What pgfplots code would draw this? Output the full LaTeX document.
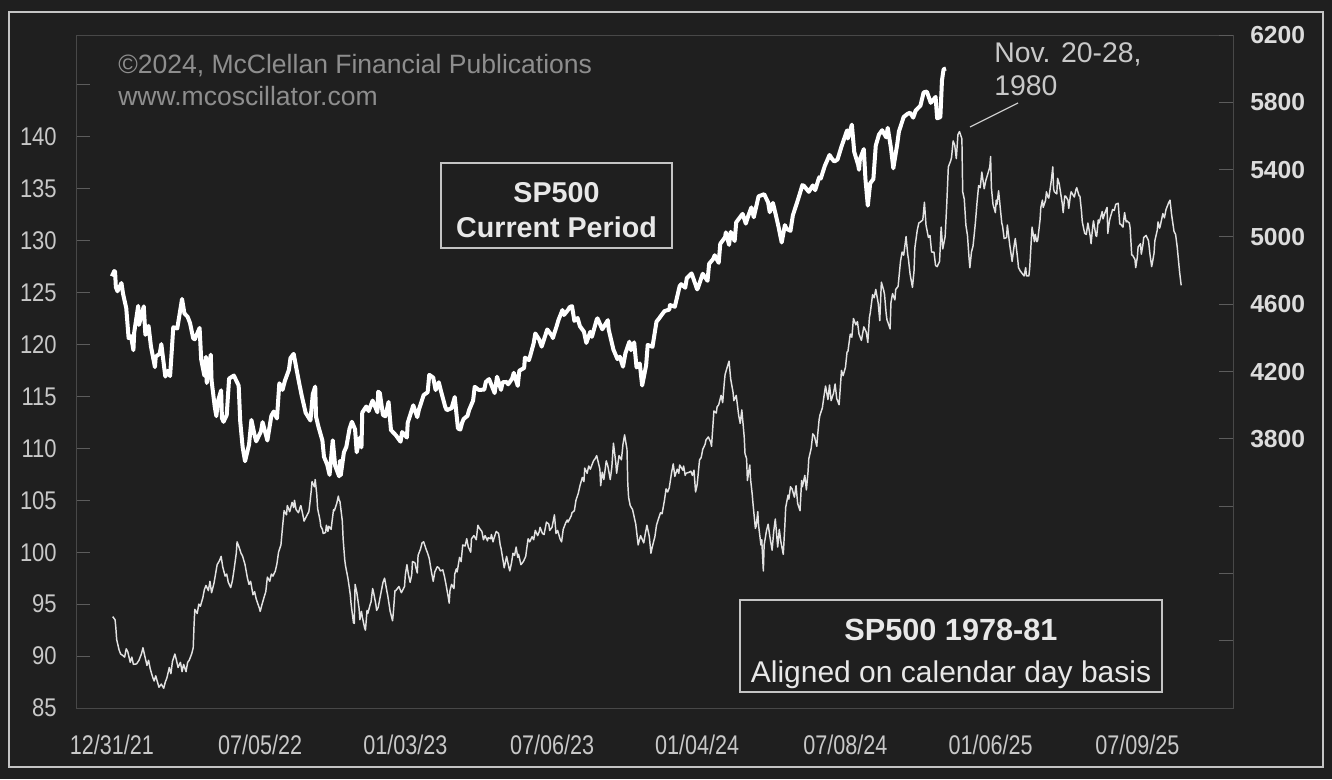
\documentclass[border=0pt]{standalone}
\usepackage{pgfplots}
\pgfplotsset{compat=1.18}
\usepackage{fontspec}
\setmainfont{Liberation Sans}
\newfontfamily\ltickfont[FakeStretch=0.86]{Liberation Sans}
\newfontfamily\xtickfont[FakeStretch=0.80]{Liberation Sans}
\definecolor{bg}{HTML}{1F1F1F}
\definecolor{framec}{HTML}{484848}
\definecolor{tickc}{HTML}{5C5C5C}
\definecolor{labc}{HTML}{C8C8C8}
\definecolor{labr}{HTML}{DCDCDC}
\definecolor{copyc}{HTML}{8E8E8E}
\definecolor{boxc}{HTML}{C4C4C4}
\definecolor{txtc}{HTML}{E8E8E8}
\definecolor{thinc}{HTML}{E2E2E2}
\begin{document}
\begin{tikzpicture}
\begin{scope}[x=0.75pt,y=-0.75pt]
\fill[bg] (0,0) rectangle (1332,779);
\useasboundingbox (0,0) rectangle (1332,779);
\draw[boxc, line width=1.5pt] (9,12) rectangle (1323,767);
\end{scope}
% ---------- left axis: SP500 1978-81 ----------
\begin{axis}[
  at={(57pt,-531pt)}, anchor=south west, scale only axis,
  width=867.75pt, height=504.75pt,
  xmin=-45, xmax=1406, ymin=85, ymax=149.8,
  axis line style={draw=framec, line width=0.75pt},
  xtick={0,186,368,552,734,920,1102,1286},
  xticklabels={12/31/21,07/05/22,01/03/23,07/06/23,01/04/24,07/08/24,01/06/25,07/09/25},
  xtick style={draw=none},
  ytick={85,90,95,100,105,110,115,120,125,130,135,140,145},
  yticklabels={85,90,95,100,105,110,115,120,125,130,135,140,{}},
  ytick pos=left, tick align=inside,
  ytick style={draw=tickc, line width=0.75pt},
  major tick length=10.5pt,
  yticklabel style={font=\ltickfont\fontsize{19.2}{22}\selectfont, text=labc, inner sep=0pt, anchor=east, xshift=-14.25pt},
  xticklabel style={font=\xtickfont\fontsize{20.25}{22}\selectfont, text=labc, inner sep=0pt, anchor=north, yshift=-20.25pt},
]
\addplot[thinc, line width=1.1pt, line join=round] coordinates {
(1,93.8) (4,93.5) (5,92.7) (6,91.6) (9,90.6) (11,90.2) (13,90.1) (16,89.9) (18,90.7) (20,90.4) (23,89.4) (25,89.9) (27,89.2) (31,89.25) (34,89.6) (37,90.2) (39,90.8) (41,90.1) (44,89.1) (46,89.6) (48,88.8) (51,88.0) (53,87.6) (55,88.1) (59,87.0) (62,87.3) (65,86.9) (67,87.5) (69,87.9) (72,88.9) (74,88.3) (76,89.5) (79,90.2) (81,89.6) (83,88.9) (86,89.4) (88,88.5) (90,89.2) (93,88.5) (95,89.4) (97,89.6) (100,90.2) (102,90.8) (103,92.9) (104,94.5) (107,94.1) (109,95.0) (111,94.8) (114,95.6) (116,96.4) (118,96.8) (121,96.3) (123,97.2) (125,96.1) (128,97.0) (130,97.9) (132,98.8) (135,99.2) (137,99.6) (139,98.6) (142,97.7) (144,97.9) (146,97.1) (149,96.6) (151,97.2) (153,98.2) (156,99.9) (157,101.0) (159,100.6) (162,99.9) (164,99.6) (167,98.8) (170,97.5) (172,96.9) (174,97.2) (177,95.9) (179,96.2) (181,95.5) (185,94.6) (186,94.3) (188,94.9) (191,95.7) (193,96.2) (195,97.6) (198,97.2) (200,97.9) (202,97.7) (205,98.2) (207,98.9) (209,100.0) (212,100.7) (214,102.4) (216,104.0) (219,103.6) (220,104.5) (223,103.9) (226,104.8) (228,104.3) (229,105.0) (231,104.1) (234,103.8) (236,104.3) (237,104.5) (240,103.4) (241,103.0) (243,103.3) (247,103.9) (248,104.5) (250,105.9) (251,106.8) (254,106.3) (255,107.0) (257,105.5) (258,104.2) (261,103.1) (262,102.5) (264,102.2) (265,101.8) (268,101.9) (269,102.6) (271,102.0) (272,102.5) (275,102.2) (276,102.9) (278,104.1) (279,104.0) (282,104.7) (284,105.4) (285,105.0) (286,104.9) (289,103.0) (290,101.3) (292,99.3) (293,98.7) (296,97.5) (297,97.0) (299,95.9) (300,95.0) (303,93.2) (304,93.15) (305,96.9) (307,96.2) (310,94.6) (311,93.5) (313,94.3) (314,93.8) (317,92.7) (318,92.5) (320,94.4) (321,94.1) (324,95.0) (325,95.2) (327,96.5) (328,96.2) (331,95.0) (332,94.4) (334,94.7) (338,96.3) (340,97.1) (342,97.5) (345,96.2) (346,95.8) (348,94.8) (349,94.3) (352,93.4) (353,94.2) (355,96.3) (356,96.3) (360,96.7) (362,96.3) (363,96.1)
(367,96.7) (368,97.8) (370,98.8) (372,97.8) (374,97.1) (376,97.8) (377,99.1) (380,99.0) (381,98.6) (383,98.0) (384,99.7) (387,100.3) (389,100.9) (391,101.0) (394,100.3) (396,99.9) (398,99.4) (401,98.0) (403,97.2) (405,98.1) (408,98.6) (410,98.5) (412,98.2) (415,98.3) (417,97.7) (419,96.9) (422,95.6) (423,95.1) (424,96.3) (426,96.9) (429,96.5) (430,97.9) (432,98.4) (433,98.1) (436,99.5) (438,99.1) (440,100.7) (443,100.6) (445,101.3) (447,100.5) (450,100.0) (451,101.3) (454,101.6) (457,101.2) (459,102.6) (461,102.3) (464,102.0) (466,101.2) (468,101.6) (471,101.1) (472,101.4) (475,101.3) (476,101.7) (478,101.0) (479,101.3) (482,102.0) (485,101.8) (487,100.7) (488,100.4) (491,99.0) (492,98.5) (494,99.2) (495,99.6) (498,98.5) (499,98.2) (501,98.9) (503,99.9) (505,99.7) (507,100.5) (509,99.5) (510,99.8) (513,98.8) (516,99.1) (519,99.6) (520,100.2) (522,101.3) (524,101.0) (527,101.5) (529,101.2) (531,102.1) (534,101.6) (536,102.0) (537,102.4) (540,101.8) (542,101.7) (545,102.9) (548,102.7) (549,102.1) (552,102.4) (555,103.6) (557,101.8) (559,102.1) (562,101.3) (564,101.0) (566,102.2) (569,102.8) (571,103.1) (572,102.9) (576,103.5) (577,103.8) (580,104.0) (582,105.0) (585,105.7) (587,106.4) (590,107.2) (592,106.8) (593,108.1) (596,107.6) (598,108.3) (600,108.0) (601,108.2) (604,108.8) (606,109.0) (608,109.3) (612,108.0) (613,106.4) (615,107.7) (617,107.0) (619,108.2) (620,108.8) (622,108.3) (625,107.0) (627,108.2) (629,110.5) (632,108.6) (633,107.6) (636,109.3) (639,108.9) (641,110.4) (643,111.3) (646,109.9) (647,106.6) (648,105.3) (650,104.5) (653,104.1) (655,103.4) (657,102.7) (660,100.7) (662,101.3) (663,101.6) (667,100.9) (669,101.8) (671,102.6) (674,101.5) (676,99.9) (678,100.6) (681,101.5) (683,102.6) (685,103.1) (688,103.8) (690,103.7) (693,105.0) (695,106.1) (697,105.8) (699,106.2) (702,107.7) (704,108.5) (706,107.3) (709,108.0) (711,107.6) (712,108.4) (716,107.9) (717,108.3) (719,107.4) (720,107.6) (724,107.7) (726,107.8) (728,107.4) (730,107.9)
(732,105.8) (734,106.5) (737,108.9) (739,109.1) (741,109.9) (744,110.4) (745,110.8) (748,111.1) (751,110.6) (752,110.2) (755,113.6) (758,113.4) (759,114.0) (761,114.2) (764,115.1) (766,114.4) (768,116.3) (769,117.1) (772,117.9) (774,118.4) (776,116.7) (779,115.4) (780,114.6) (783,115.1) (786,113.2) (788,112.4) (790,113.7) (793,111.1) (794,109.5) (796,109.0) (797,106.9) (800,108.4) (801,107.0) (803,105.6) (804,104.7) (807,102.3) (808,102.5) (810,103.9) (811,102.6) (814,100.7) (815,101.2) (817,98.2) (818,100.7) (821,102.1) (823,102.7) (825,101.6) (828,100.2) (830,102.0) (832,103.2) (835,100.5) (837,102.2) (839,101.0) (842,99.8) (844,102.6) (845,104.3) (848,105.5) (849,105.1) (851,106.3) (853,106.1) (856,105.3) (858,106.4) (860,104.7) (863,104.0) (865,106.9) (866,106.3) (869,107.4) (871,106.0) (873,107.7) (874,109.0) (877,110.0) (879,111.4) (881,111.2) (884,110.2) (885,111.2) (887,112.8) (888,113.2) (891,113.9) (893,115.0) (895,116.0) (898,114.7) (900,116.1) (902,114.6) (905,115.3) (907,116.2) (909,114.8) (912,114.2) (915,117.5) (917,117.0) (920,117.8) (922,119.3) (923,119.3) (926,121.0) (928,120.7) (930,122.5) (933,121.9) (935,122.2) (937,121.0) (940,120.4) (943,121.7) (946,121.2) (948,120.2) (950,122.6) (951,123.0) (954,124.8) (956,124.5) (958,125.3) (961,124.0) (963,122.3) (965,126.0) (968,125.2) (969,124.8) (971,123.0) (972,122.4) (976,121.5) (977,124.0) (979,124.9) (982,124.3) (983,125.3) (986,125.6) (989,128.0) (991,128.9) (993,128.6) (996,130.4) (998,128.7) (999,128.2) (1001,126.8) (1004,125.5) (1006,127.1) (1007,129.3) (1010,131.0) (1012,131.7) (1014,131.8) (1017,132.0) (1019,133.7) (1021,131.5) (1024,130.3) (1026,130.5) (1028,128.9) (1031,128.9) (1033,127.6) (1035,127.5) (1038,128.0) (1040,131.3) (1042,129.2) (1045,130.4) (1047,133.5) (1049,137.1) (1052,137.7) (1053,138.0) (1055,139.6) (1057,139.2) (1059,137.9) (1061,140.2) (1063,140.5) (1066,139.8) (1067,134.7) (1069,134.0) (1071,131.5) (1073,130.5) (1075,128.3) (1076,127.4) (1078,128.9) (1080,129.5) (1082,131.0) (1083,131.8) (1085,133.7) (1087,135.3) (1089,135.1) (1091,136.6) (1094,135.0) (1096,135.8)
(1098,136.3) (1101,137.1) (1102,138.1) (1103,135.1) (1105,133.5) (1108,132.7) (1109,133.9) (1110,133.5) (1112,134.8) (1116,131.7) (1117,131.4) (1119,130.2) (1122,130.3) (1123,131.5) (1126,129.6) (1129,128.0) (1130,128.6) (1132,129.8) (1133,130.2) (1136,128.2) (1137,127.4) (1139,127.1) (1140,127.0) (1144,126.6) (1146,127.4) (1147,126.6) (1150,126.6) (1151,127.3) (1153,130.0) (1154,131.3) (1157,129.9) (1158,130.6) (1160,129.9) (1161,130.0) (1164,132.0) (1165,133.2) (1167,133.9) (1168,133.2) (1171,133.9) (1172,134.7) (1174,134.2) (1175,134.1) (1178,135.7) (1180,137.1) (1181,135.0) (1182,134.7) (1185,134.5) (1186,136.0) (1188,135.5) (1189,135.0) (1192,133.5) (1193,132.7) (1195,134.3) (1196,134.3) (1199,133.9) (1200,133.1) (1202,134.3) (1203,134.7) (1207,134.2) (1209,134.9) (1210,135.1) (1213,134.3) (1214,134.3) (1216,132.8) (1217,131.8) (1220,130.7) (1222,130.6) (1224,131.7) (1227,130.4) (1228,129.7) (1230,131.3) (1231,131.9) (1234,130.5) (1235,130.4) (1237,132.0) (1238,131.7) (1242,132.8) (1243,132.1) (1245,132.6) (1248,133.2) (1249,130.7) (1251,131.9) (1252,132.2) (1255,133.0) (1257,132.9) (1259,133.5) (1262,133.6) (1264,131.6) (1265,131.6) (1268,131.3) (1270,132.7) (1272,131.8) (1273,131.9) (1276,131.7) (1277,131.2) (1279,128.6) (1280,128.6) (1283,128.2) (1284,127.4) (1286,128.4) (1287,129.4) (1290,129.7) (1291,128.7) (1293,129.6) (1294,130.3) (1297,130.5) (1300,130.0) (1302,128.6) (1304,127.5) (1305,127.9) (1307,128.8) (1308,130.0) (1311,131.0) (1312,131.8) (1314,131.2) (1315,131.5) (1318,132.6) (1320,132.2) (1322,133.0) (1325,133.6) (1327,133.9) (1329,132.5) (1332,130.9) (1334,130.6) (1336,129.4) (1339,127.0) (1341,125.7)
};
\end{axis}
% ---------- right axis: SP500 current ----------
\begin{axis}[
  at={(57pt,-531pt)}, anchor=south west, scale only axis,
  width=867.75pt, height=504.75pt,
  xmin=-45, xmax=1406, ymin=2200, ymax=6200,
  axis x line=none, axis y line*=right,
  axis line style={draw=framec, line width=0.75pt},
  ytick={2600,3000,3400,3800,4200,4600,5000,5400,5800,6200},
  yticklabels={{},{},{},3800,4200,4600,5000,5400,5800,6200},
  ytick pos=right, tick align=inside,
  ytick style={draw=tickc, line width=0.75pt},
  major tick length=10.5pt,
  yticklabel style={font=\bfseries\fontsize{18.5}{20}\selectfont, text=labr, inner sep=0pt, anchor=west, xshift=12.75pt},
]
\addplot[white, line width=3pt, line join=round] coordinates {
(0,4766) (3,4797) (4,4793) (5,4701) (7,4677) (12,4726) (14,4662) (18,4577) (21,4398) (24,4410) (27,4327) (28,4432) (33,4590) (34,4477) (40,4587) (42,4418) (46,4471) (49,4349) (54,4226) (55,4288) (60,4306) (62,4363) (67,4170) (70,4204) (73,4173) (77,4463) (82,4456) (88,4631) (91,4545) (95,4525) (98,4488) (102,4397) (104,4392) (110,4459) (112,4272) (116,4175) (118,4287) (119,4132) (124,4300) (125,4147) (129,3991) (131,3935) (133,4024) (137,4088) (138,3923) (140,3901) (144,3941) (147,4158) (153,4176) (159,4116) (161,3901) (164,3750) (167,3667) (172,3765) (175,3912) (179,3821) (181,3785) (187,3845) (189,3899) (195,3790) (200,3937) (203,3962) (207,3921) (210,4130) (214,4091) (217,4145) (222,4210) (224,4280) (228,4305) (231,4228) (235,4128) (238,4058) (243,3955) (249,3909) (252,4067) (255,4110) (256,3932) (259,3873) (264,3790) (266,3693) (270,3647) (273,3586) (277,3791) (280,3640) (285,3577) (286,3669) (287,3583) (291,3720) (294,3752) (298,3859) (301,3901) (305,3856) (307,3720) (311,3807) (313,3749) (314,3956) (319,3992) (322,3965) (327,4027) (333,3958) (334,4080) (336,4072) (340,3941) (343,3934) (347,4019) (350,3852) (356,3822) (362,3783) (364,3840)
(370,3808) (371,3895) (378,3999) (383,3929) (385,3973) (391,4060) (396,4077) (398,4180) (403,4164) (406,4090) (410,4136) (413,4079) (418,3991) (420,3970) (426,3982) (430,4048) (434,3862) (437,3855) (439,3892) (441,3917) (446,3937) (448,3971) (453,4027) (455,4109) (460,4091) (467,4092) (469,4138) (473,4155) (480,4072) (483,4169) (488,4091) (490,4136) (495,4138) (497,4124) (502,4158) (504,4192) (509,4115) (511,4205) (517,4221) (518,4282) (523,4268) (525,4299) (529,4369) (531,4426) (536,4389) (539,4348) (546,4450) (552,4412) (553,4399) (558,4473) (560,4505) (565,4565) (567,4536) (572,4566) (574,4582) (577,4589) (580,4501) (584,4518) (587,4469) (592,4437) (595,4370) (600,4436) (602,4406) (608,4508) (609,4516) (615,4451) (622,4505) (623,4450) (629,4330) (634,4274) (637,4288) (641,4229) (644,4308) (649,4377) (651,4327) (655,4373) (658,4224) (662,4248) (665,4117) (670,4237) (672,4358) (678,4347) (683,4496) (686,4514) (693,4559) (699,4568) (700,4595) (706,4585) (712,4707) (714,4719) (719,4698) (721,4755) (727,4783) (728,4770)
(734,4688) (735,4697) (741,4781) (747,4739) (749,4840) (754,4868) (756,4891) (761,4846) (763,4959) (769,4998) (770,5027) (774,4953) (776,5030) (781,4976) (783,5087) (791,5137) (795,5079) (798,5124) (802,5175) (805,5117) (811,5241) (818,5254) (823,5205) (825,5147) (829,5202) (833,5123) (836,5061) (840,4967) (844,5070) (846,5048) (851,5036) (854,5128) (860,5215) (866,5308) (868,5303) (874,5268) (879,5306) (882,5278) (887,5354) (889,5347) (894,5421) (900,5487) (903,5465) (906,5448) (910,5460) (915,5537) (922,5633) (923,5585) (928,5667) (931,5505) (936,5427) (937,5399) (938,5459) (943,5522) (945,5346) (948,5186) (951,5319) (955,5344) (958,5543) (962,5608) (966,5634) (971,5592) (973,5648) (977,5529) (980,5408) (985,5554) (987,5626) (993,5713) (998,5732) (1001,5738) (1005,5709) (1008,5751) (1014,5780) (1018,5859) (1022,5864) (1027,5797) (1029,5808) (1033,5832) (1035,5705) (1039,5712) (1041,5929) (1043,5996) (1046,6001)
};
\end{axis}
\begin{scope}[x=0.75pt,y=-0.75pt]
% copyright
\node[anchor=base west, inner sep=0pt, text=copyc, font=\fontsize{19.9}{22}\selectfont] at (118,73) {©2024, McClellan Financial Publications};
\node[anchor=base west, inner sep=0pt, text=copyc, font=\fontsize{19.9}{22}\selectfont] at (118,105) {www.mcoscillator.com};
% annotation
\draw[labc, line width=0.9pt] (970,127) -- (1018,103);
\node[anchor=base west, inner sep=0pt, text=labc, font=\fontsize{21.3}{24}\selectfont] at (994,62) {Nov. 20-28,};
\node[anchor=base west, inner sep=0pt, text=labc, font=\fontsize{21.3}{24}\selectfont] at (994,95) {1980};
% box 1
\draw[boxc, line width=1.1pt] (441,163) rectangle (672,248);
\node[anchor=base, inner sep=0pt, text=txtc, font=\bfseries\fontsize{21.5}{24}\selectfont] at (556.5,202) {SP500};
\node[anchor=base, inner sep=0pt, text=txtc, font=\bfseries\fontsize{21.5}{24}\selectfont] at (556.5,237) {Current Period};
% box 2
\draw[boxc, line width=1.1pt] (740,600) rectangle (1162,692);
\node[anchor=base, inner sep=0pt, text=txtc, font=\bfseries\fontsize{23}{26}\selectfont] at (951,640) {SP500 1978-81};
\node[anchor=base, inner sep=0pt, text=txtc, font=\fontsize{22.5}{26}\selectfont] at (951,682) {Aligned on calendar day basis};
\end{scope}
\end{tikzpicture}
\end{document}
